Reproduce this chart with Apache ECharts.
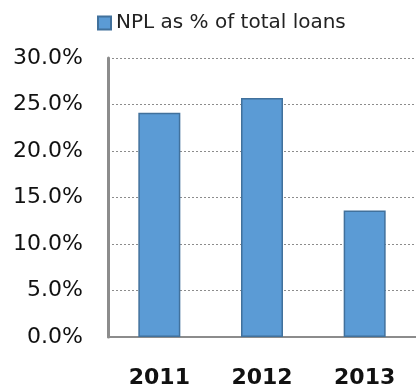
<!DOCTYPE html>
<html>
<head>
<meta charset="utf-8">
<script src="https://cdn.jsdelivr.net/npm/echarts@6/dist/echarts.min.js"></script>
<style>
  html, body { margin: 0; padding: 0; background: #fff; }
  #chart { width: 416px; height: 389px; }
</style>
</head>
<body>
<div id="chart"></div>
<script>
// Non-performing loans as a share of the total loan book, by year
const years = ['2011', '2012', '2013'];
const nplShare = [24.1, 25.7, 13.6];
const seriesName = 'NPL as % of total loans';

const chart = echarts.init(document.getElementById('chart'), null, { renderer: 'canvas' });

chart.setOption({
  animation: false,
  backgroundColor: '#ffffff',
  legend: {
    left: 92,
    top: 8,
    itemWidth: 13,
    itemHeight: 13,
    icon: 'rect',
    textStyle: { fontFamily: 'DejaVu Sans', fontSize: 20, color: '#222' },
    data: [seriesName]
  },
  grid: { left: 108, top: 58, width: 314, bottom: 52, containLabel: false },
  xAxis: {
    type: 'category',
    data: years,
    axisLine: { lineStyle: { color: '#8c8c8c', width: 2 } },
    axisTick: { show: false },
    axisLabel: {
      margin: 30,
      fontFamily: 'DejaVu Sans',
      fontWeight: 'bold',
      fontSize: 22,
      color: '#111'
    }
  },
  yAxis: {
    type: 'value',
    min: 0,
    max: 30,
    interval: 5,
    axisLine: { show: true, lineStyle: { color: '#8c8c8c', width: 3 } },
    axisTick: { show: false },
    splitLine: { lineStyle: { color: '#8c8c8c', type: [2, 2], width: 1 } },
    axisLabel: {
      margin: 25,
      fontFamily: 'DejaVu Sans',
      fontSize: 22,
      color: '#111',
      formatter: v => v.toFixed(1) + '%'
    }
  },
  series: [{
    name: seriesName,
    type: 'bar',
    data: nplShare,
    barWidth: 42,
    itemStyle: { color: '#5b9bd5', borderColor: '#41719c', borderWidth: 1.5 }
  }]
});
</script>
</body>
</html>
